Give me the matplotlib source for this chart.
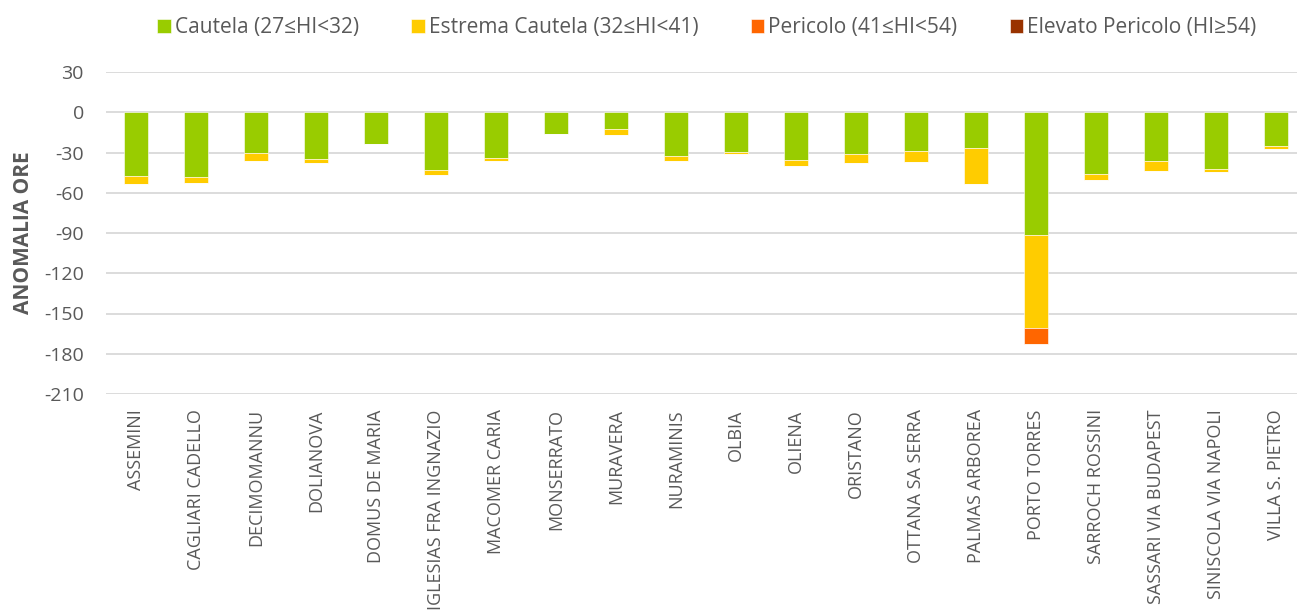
import matplotlib.pyplot as plt
import numpy as np

stations = ['ASSEMINI', 'CAGLIARI CADELLO', 'DECIMOMANNU', 'DOLIANOVA', 'DOMUS DE MARIA',
            'IGLESIAS FRA INGNAZIO', 'MACOMER CARIA', 'MONSERRATO', 'MURAVERA', 'NURAMINIS',
            'OLBIA', 'OLIENA', 'ORISTANO', 'OTTANA SA SERRA', 'PALMAS ARBOREA',
            'PORTO TORRES', 'SARROCH ROSSINI', 'SASSARI VIA BUDAPEST', 'SINISCOLA VIA NAPOLI',
            'VILLA S. PIETRO']

# anomalia ore (negative values)
cautela = [-47.5, -48.5, -30, -34.7, -24, -43, -33.8, -16.5, -12.8, -32.3,
           -29.8, -35.8, -31, -28.7, -26.5, -91.5, -45.8, -36.5, -42.3, -25.5]
estrema = [-6, -4, -6.2, -3, 0, -3.5, -2.2, 0, -4, -4,
           -1.2, -4.2, -7, -8.7, -27, -69, -5, -7, -2.3, -2]
pericolo = [0, 0, 0, 0, 0, 0, 0, 0, 0, 0,
            0, 0, 0, 0, 0, -12, 0, 0, 0, 0]
elevato = [0] * 20

series = [
    ('Cautela (27≤HI<32)', cautela, '#99CC00'),
    ('Estrema Cautela (32≤HI<41)', estrema, '#FFCC00'),
    ('Pericolo (41≤HI<54)', pericolo, '#FF6600'),
    ('Elevato Pericolo (HI≥54)', elevato, '#993300'),
]

plt.rcParams['font.family'] = ['Open Sans', 'DejaVu Sans']
plt.rcParams['axes.unicode_minus'] = False
grey = '#595959'

fig = plt.figure(figsize=(12.97, 6.13), dpi=100)
ax = fig.add_axes([106 / 1297, 219 / 613, 1200 / 1297, 322 / 613])

x = np.arange(len(stations))
bottom = np.zeros(len(stations))
handles = []
for label, vals, color in series:
    vals = np.array(vals, dtype=float)
    b = ax.bar(x, vals, 0.4, bottom=bottom, color=color, label=label,
               edgecolor='white', linewidth=0.4, zorder=3)
    handles.append(b)
    bottom += vals

ax.set_ylim(-210, 30)
ax.set_xlim(-0.5, len(stations) - 0.5)
ax.set_yticks(np.arange(-210, 31, 30))
ax.yaxis.grid(True, color='#D9D9D9', linewidth=1.3, zorder=0)
ax.set_axisbelow(True)
for s in ax.spines.values():
    s.set_visible(False)

ax.set_xticks(x)
ax.set_xticklabels(stations, rotation=90, va='top', ha='center')
ax.tick_params(axis='x', length=0, pad=11, labelsize=13, labelcolor=grey)
ax.tick_params(axis='y', length=0, pad=16, labelsize=14, labelcolor=grey)

ax.set_ylabel('ANOMALIA ORE', fontsize=15, fontweight='bold', color=grey)
ax.yaxis.set_label_coords(-0.06, 0.5)

fig.legend(handles=handles, loc='center', bbox_to_anchor=(0.545, 0.955), ncol=4,
           frameon=False, fontsize=15, labelcolor=grey, handlelength=0.65,
           handleheight=0.65, handletextpad=0.2, columnspacing=2.5)

fig.savefig('out.png', dpi=100)
